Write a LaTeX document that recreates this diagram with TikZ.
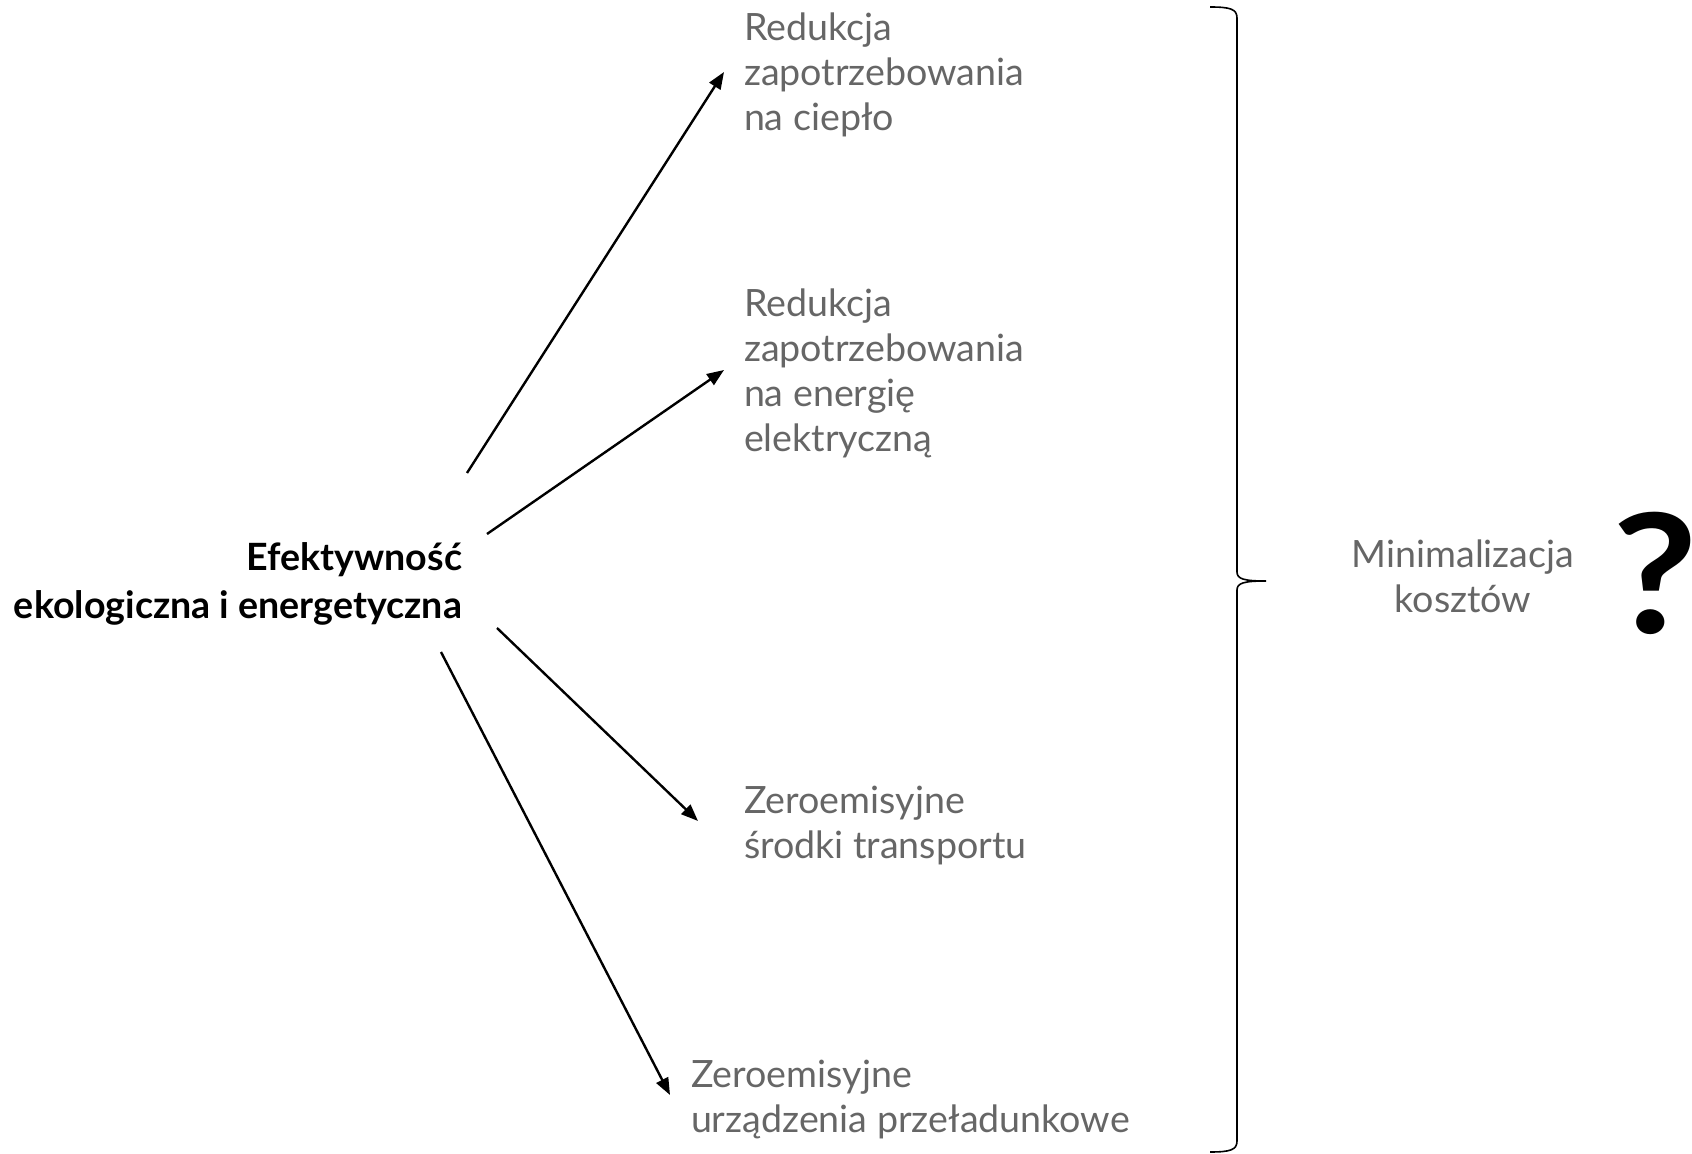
\documentclass[tikz,border=0pt]{standalone}
\usepackage{fontspec}
\setmainfont{Lato}
\usetikzlibrary{arrows.meta}
\definecolor{txtgray}{RGB}{102,102,102}
\tikzset{
  lbl/.style={inner sep=0pt, outer sep=0pt, text=txtgray, align=left,
    font={\fontsize{18.8pt}{22.5pt}\selectfont}},
  mainlbl/.style={inner sep=0pt, outer sep=0pt, text=black, align=right,
    font={\bfseries\fontsize{18.8pt}{24pt}\selectfont}},
  conn/.style={line width=1.2pt, -{Triangle[length=8.5pt,width=6.5pt]}},
  bracestyle/.style={line width=0.8pt}
}
\begin{document}
\begin{tikzpicture}[x=0.5pt,y=-0.5pt]
\useasboundingbox (0,0) rectangle (1692,1154);
% texts (base anchor = baseline of last line)
\node[mainlbl, anchor=base east] (main) at (462,618)
  {Efektywność\\ekologiczna i energetyczna};
\node[lbl, anchor=base west] (b1) at (744,131)
  {Redukcja\\zapotrzebowania\\na ciepło};
\node[lbl, anchor=base west] (b2) at (744,452)
  {Redukcja\\zapotrzebowania\\na energię\\elektryczną};
\node[lbl, anchor=base west] (b3) at (744,858)
  {Zeroemisyjne\\środki transportu};
\node[lbl, anchor=base west] (b4) at (691,1132)
  {Zeroemisyjne\\urządzenia przeładunkowe};
\node[lbl, align=center, anchor=base] (cost) at (1463,613)
  {Minimalizacja\\kosztów};
\node[inner sep=0pt, anchor=base west, font={\bfseries\fontsize{83pt}{83pt}\selectfont}] (q) at (1612,633) {\scalebox{1.12}[1]{?}};
% connector ends
\coordinate (s1) at (467,473);
\coordinate (e1) at (724,72);
\coordinate (s2) at (487,534);
\coordinate (e2) at (724,370);
\coordinate (s3) at (497,628);
\coordinate (e3) at (698,821);
\coordinate (s4) at (441,652);
\coordinate (e4) at (670,1095);
\draw[conn] (s1) -- (e1);
\draw[conn] (s2) -- (e2);
\draw[conn] (s3) -- (e3);
\draw[conn] (s4) -- (e4);
% brace
\coordinate (btop) at (1210,7);
\coordinate (btip) at (1266,581);
\coordinate (bbot) at (1210,1152);
\draw[bracestyle] (btop) .. controls (1230,7) and (1237,9) .. (1237,18)
  -- (1237,572) .. controls (1237,579) and (1244,581) .. (btip)
  .. controls (1244,581) and (1237,583) .. (1237,590)
  -- (1237,1141) .. controls (1237,1150) and (1230,1152) .. (bbot);
\end{tikzpicture}
\end{document}
